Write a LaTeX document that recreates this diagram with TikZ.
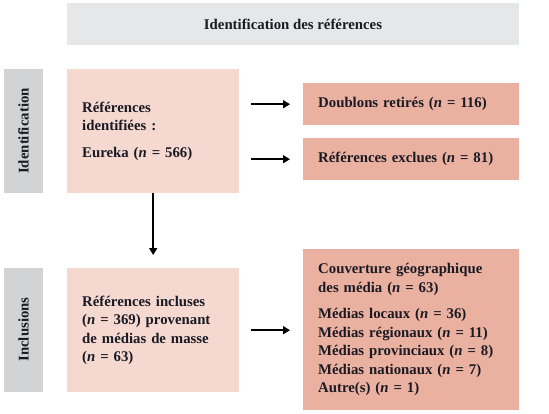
\documentclass[tikz,border=0pt]{standalone}
\usepackage{fontspec}
\setmainfont{Liberation Serif}
\usetikzlibrary{arrows.meta}
\definecolor{titlegray}{HTML}{E6E7E8}
\definecolor{sidegray}{HTML}{D1D3D4}
\definecolor{lightpink}{HTML}{F5D9D1}
\definecolor{salmonbox}{HTML}{EBB1A0}
\definecolor{inkcol}{HTML}{1A1A24}
\newcommand{\nn}{\textit{n}}
\begin{document}
\begin{tikzpicture}[x=1pt,y=-1pt,
  every node/.style={text=inkcol, font=\bfseries\fontsize{14.8}{18.5}\selectfont},
  titlebox/.style={fill=titlegray, minimum width=452pt, minimum height=42pt, inner sep=0pt},
  sidebox/.style={fill=sidegray, rotate=90, minimum width=124pt, minimum height=39pt, inner sep=0pt},
  mainbox/.style={fill=lightpink, anchor=north west, minimum width=169pt, minimum height=124pt, text width=142pt, inner xsep=15pt, inner ysep=0pt, align=left},
  outbox/.style={fill=salmonbox, anchor=north west, minimum width=216pt, text width=186pt, inner xsep=15pt, inner ysep=0pt, align=left},
  arr/.style={draw=black, line width=1.7pt, -{Triangle[length=7pt,width=8pt]}}
]
\useasboundingbox (0,0) rectangle (549,413);
\node[titlebox] (title) at (293,24) {Identification des références};
\node[sidebox] (sideid) at (23.5,131) {Identification};
\node[sidebox] (sideinc) at (23.5,329.5) {Inclusions};
\node[mainbox] (id) at (67,69) {Références\\ identifiées :\\[8pt] Eureka (\nn{} = 566)};
\node[mainbox] (incl) at (67,268) {Références incluses\\ (\nn{} = 369) provenant\\ de médias de masse\\ (\nn{} = 63)};
\node[outbox, minimum height=42pt] (dbl) at (303,83) {Doublons retirés (\nn{} = 116)};
\node[outbox, minimum height=42pt] (exc) at (303,138) {Références exclues (\nn{} = 81)};
\node[outbox, minimum height=161pt] (couv) at (303,249) {Couverture géographique\\ des média (\nn{} = 63)\\[8pt]
Médias locaux (\nn{} = 36)\\ Médias régionaux (\nn{} = 11)\\ Médias provinciaux (\nn{} = 8)\\ Médias nationaux (\nn{} = 7)\\ Autre(s) (\nn{} = 1)};
\draw[arr] ([xshift=12pt]id.east |- dbl.west) -- ([xshift=-13pt]dbl.west);
\draw[arr] ([xshift=12pt]id.east |- exc.west) -- ([xshift=-13pt]exc.west);
\draw[arr] (id.south) -- ([yshift=13pt]incl.north);
\draw[arr] ([xshift=12pt]incl.east) -- ([xshift=-13pt]incl.east -| couv.west);
\end{tikzpicture}
\end{document}
